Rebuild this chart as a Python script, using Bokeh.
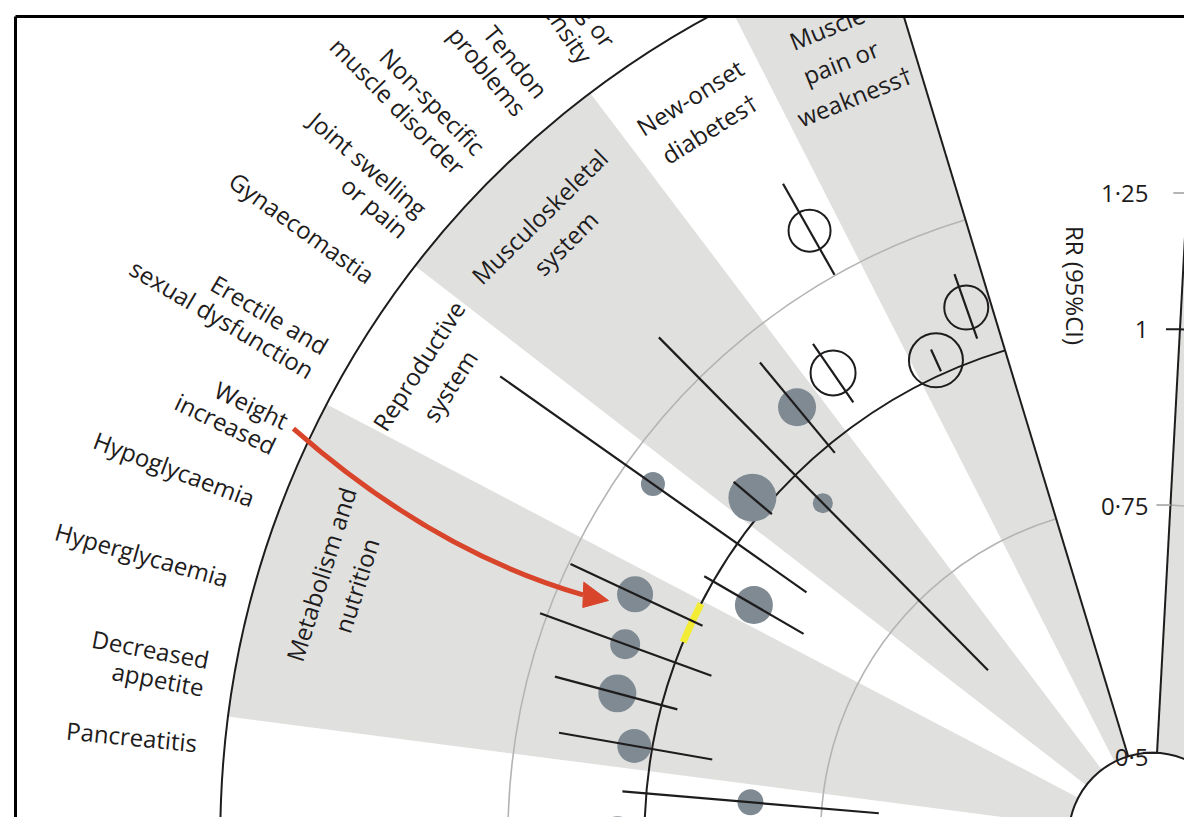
import math
from bokeh.plotting import figure
from bokeh.models import Range1d
from bokeh.embed import file_html
from bokeh.resources import INLINE
from bokeh.core.properties import value

# ---------------- data ----------------
outcome_labels = [
    "", "", "",
    "Diabetes drug or\nincreased intensity",
    "Tendon\nproblems",
    "Non-specific\nmuscle disorder",
    "Joint swelling\nor pain",
    "Gynaecomastia",
    "Erectile and\nsexual dysfunction",
    "Weight\nincreased",
    "Hypoglycaemia",
    "Hyperglycaemia",
    "Decreased\nappetite",
    "Pancreatitis",
    "Nausea and\nvomiting",
]
rr      = [1.090, 1.025, 1.360, 1.094, 1.084, 0.938, 1.027, 1.184, 0.926, 1.109, 1.091, 1.078, 1.030, 0.843, 1.045]
rr_low  = [1.033, 1.005, 1.252, 1.032, 0.984, 0.639, 0.985, 0.871, 0.843, 0.982, 0.939, 0.974, 0.905, 0.683, 0.930]
rr_high = [1.155, 1.045, 1.485, 1.159, 1.192, 1.373, 1.069, 1.607, 1.017, 1.246, 1.265, 1.198, 1.167, 1.040, 1.180]
weight  = [2.2, 2.7, 2.1, 2.25, 1.9, 1.0, 2.4, 1.2, 1.9, 1.8, 1.5, 1.9, 1.7, 1.3, 2.2]
hollow  = [True, True, True, True] + [False] * 11
group_labels = ["Muscle\npain or\nweakness\u2020", "New-onset\ndiabetes\u2020", "Musculoskeletal\nsystem",
                "Reproductive\nsystem", "Metabolism and\nnutrition", ""]
group_sizes = [2, 2, 3, 2, 4, 2]
rr_ticks = [0.5, 0.75, 1.0, 1.25]
rr_tick_labels = ["0\u00b75", "0\u00b775", "1", "1\u00b725"]
axis_title = "RR (95%CI)"
highlight_outcome = 9  # "Weight increased"

# ---------------- geometry ----------------
R1, K = 508.0, 612.0            # radius of RR=1 and px per ln unit
def rad(v):
    return R1 + K * math.log(v)

SLOT = 5.057
FIRST_EDGE = 106.87
GAP_EDGE = 86.9
LABEL_STEP = 5.0

def P(r, deg):
    t = math.radians(deg)
    return r * math.cos(t), r * math.sin(t)

def slot_angle(i):
    return FIRST_EDGE + SLOT / 2 + SLOT * i

def label_angle(i):
    return FIRST_EDGE + SLOT / 2 + LABEL_STEP * i

W, H = 1184, 817
CX, CY = 1152, 836
X0, X1 = -CX, W - CX
Y0, Y1 = CY - H, CY
p = figure(width=W, height=H,
           x_range=Range1d(X0, X1), y_range=Range1d(Y0, Y1),
           output_backend="svg", toolbar_location=None,
           x_axis_location=None, y_axis_location=None, min_border=0)
p.outline_line_color = None
p.background_fill_color = "white"
p.border_fill_color = "white"
p.xgrid.grid_line_color = None
p.ygrid.grid_line_color = None

GRAY = "#e0e1df"
ARC_GRAY = "#b4b4b4"
INK = "#1e1c1c"
FONT = value("Open Sans")

r_in, r_out = rad(0.5), rad(2.0)

# group wedges
edges = [FIRST_EDGE]
for n in group_sizes:
    edges.append(edges[-1] + n * SLOT)
for g in range(len(group_sizes)):
    if g % 2 == 0:
        p.annular_wedge(x=0, y=0, inner_radius=r_in, outer_radius=r_out,
                        start_angle=math.radians(edges[g]), end_angle=math.radians(edges[g + 1]),
                        fill_color=GRAY, line_color=None)
# wedge beyond the axis gap
p.annular_wedge(x=0, y=0, inner_radius=r_in, outer_radius=r_out,
                start_angle=math.radians(GAP_EDGE - 6 * SLOT), end_angle=math.radians(GAP_EDGE),
                fill_color=GRAY, line_color=None)

# reference circles
for v, col, lw in [(0.75, ARC_GRAY, 1.6), (1.25, ARC_GRAY, 1.6), (1.0, INK, 2.0)]:
    p.arc(x=0, y=0, radius=rad(v), start_angle=math.radians(FIRST_EDGE), end_angle=math.radians(200),
          line_color=col, line_width=lw)
    p.arc(x=0, y=0, radius=rad(v), start_angle=math.radians(40), end_angle=math.radians(GAP_EDGE),
          line_color=col, line_width=lw)
p.arc(x=0, y=0, radius=r_out, start_angle=math.radians(FIRST_EDGE), end_angle=math.radians(200),
      line_color=INK, line_width=2.0)

# yellow highlight on RR = 1
ha = slot_angle(highlight_outcome) + 0.2
p.arc(x=0, y=0, radius=rad(1.0), start_angle=math.radians(ha - 2.4), end_angle=math.radians(ha + 2.4),
      line_color="#f3ec35", line_width=7)

# inner circle (RR = 0.5)
p.circle(x=[0], y=[0], radius=r_in, fill_color="white", line_color=INK, line_width=2)

# radial boundary lines
for a in (FIRST_EDGE, GAP_EDGE):
    xa, ya = P(r_in, a)
    xb, yb = P(1100, a)
    p.segment(x0=[xa], y0=[ya], x1=[xb], y1=[yb], line_color=INK, line_width=2)

# markers
ang = [slot_angle(i) for i in range(len(rr))]
px = [P(rad(v), a)[0] for v, a in zip(rr, ang)]
py = [P(rad(v), a)[1] for v, a in zip(rr, ang)]
fi = [i for i in range(len(rr)) if not hollow[i]]
hi = [i for i in range(len(rr)) if hollow[i]]
p.circle(x=[px[i] for i in fi], y=[py[i] for i in fi], radius=[10 * weight[i] for i in fi],
         fill_color="#7f8a93", line_color=None)
lx0 = [P(rad(v), a)[0] for v, a in zip(rr_low, ang)]
ly0 = [P(rad(v), a)[1] for v, a in zip(rr_low, ang)]
lx1 = [P(rad(v), a)[0] for v, a in zip(rr_high, ang)]
ly1 = [P(rad(v), a)[1] for v, a in zip(rr_high, ang)]
p.segment(x0=lx0, y0=ly0, x1=lx1, y1=ly1, line_color=INK, line_width=2.2)
p.circle(x=[px[i] for i in hi], y=[py[i] for i in hi], radius=[10 * weight[i] for i in hi],
         fill_color=None, line_color=INK, line_width=2)

# outcome labels (outside the ring, radial)
R_LAB, LH_OUT = 960, 28
tx, ty, tt, ta = [], [], [], []
for i, lab in enumerate(outcome_labels):
    if not lab:
        continue
    th = label_angle(i)
    for k, line in enumerate(lab.split("\n")):
        x, y = P(R_LAB, th)
        dx, dy = P(k * LH_OUT, th + 90)
        tx.append(x + dx); ty.append(y + dy); tt.append(line); ta.append(math.radians(th - 180))
p.text(x=tx, y=ty, text=tt, angle=ta, text_align="right", text_baseline="middle",
       text_font=FONT, text_font_size="24px", text_color=INK)

# group labels (inside the ring, tangential)
R_GRP, LH_GRP = 872, 37
gx, gy, gt, ga = [], [], [], []
for g, lab in enumerate(group_labels):
    if not lab:
        continue
    th = (edges[g] + edges[g + 1]) / 2
    for k, line in enumerate(lab.split("\n")):
        x, y = P(R_GRP - k * LH_GRP, th)
        gx.append(x); gy.append(y); gt.append(line); ga.append(math.radians(th - 90))
p.text(x=gx, y=gy, text=gt, angle=ga, text_align="center", text_baseline="middle",
       text_font=FONT, text_font_size="24px", text_color=INK)

# RR axis ticks and labels
for v in rr_ticks:
    xl, yl = P(rad(v), GAP_EDGE)
    col = INK if v in (0.5, 1.0) else ARC_GRAY
    p.segment(x0=[xl - 14], y0=[yl], x1=[xl], y1=[yl], line_color=col, line_width=2)
p.text(x=[-4] * len(rr_ticks), y=[P(rad(v), GAP_EDGE)[1] - (4 if v == 0.5 else 0) for v in rr_ticks],
       text=rr_tick_labels, text_align="right", text_baseline="middle",
       text_font=FONT, text_font_size="24px", text_color=INK)
p.text(x=[-77], y=[551], text=[axis_title], angle=[-math.pi / 2], text_align="center",
       text_baseline="middle", text_font=FONT, text_font_size="24px", text_color=INK)

# red arrow pointing at the highlighted outcome
RED = "#d8452b"
s = P(951, 154.6); c = P(774, 158.4); e = P(618.6, 157.0)
p.quadratic(x0=[s[0]], y0=[s[1]], x1=[e[0]], y1=[e[1]], cx=[c[0]], cy=[c[1]],
            line_color=RED, line_width=5)
tip = P(593, 156.55); b1 = P(623, 155.9); b2 = P(614, 158.1)
p.patch(x=[tip[0], b1[0], b2[0]], y=[tip[1], b1[1], b2[1]], fill_color=RED, line_color=RED, line_width=1)

# frame of the cropped figure (content clipped at the frame)
fx, fy = 15 - CX, CY - 16
p.quad(left=[X0 - 300, X0 - 300], right=[X1 + 300, fx], bottom=[fy, Y0 - 300], top=[Y1 + 300, Y1 + 300],
       fill_color="white", line_color=None, level="overlay")
p.segment(x0=[fx, fx], y0=[fy, fy], x1=[X1 + 10, fx], y1=[fy, Y0 - 10], line_color="black", line_width=3,
          level="overlay")

open("out.html", "w").write(file_html(p, INLINE))
